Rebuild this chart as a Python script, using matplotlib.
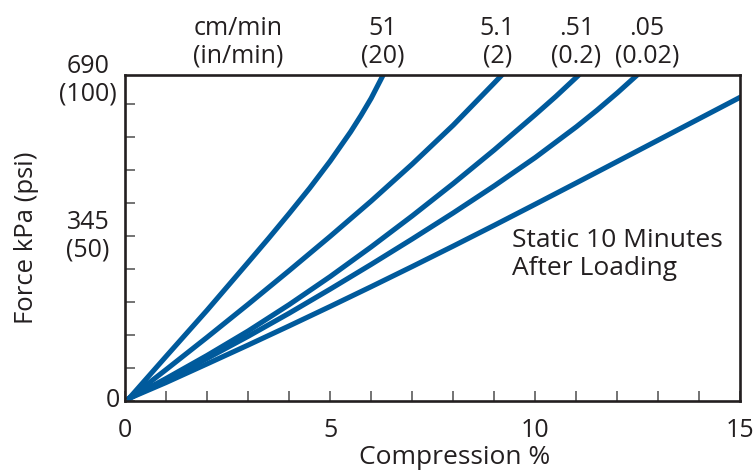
import numpy as np
import matplotlib
matplotlib.use('Agg')
import matplotlib.pyplot as plt
import matplotlib.transforms as mtransforms

plt.rcParams['font.family'] = ['Open Sans', 'DejaVu Sans']

# compression % vs force (psi)
x_51 = [0.1, 1, 2, 3, 3.5, 4, 4.5, 5, 5.5, 5.75, 6, 6.3]
y_51 = [0.8, 13.5, 27.5, 42, 49.3, 56.8, 64.5, 72.7, 81.6, 86.5, 91.75, 99]
x_5p1 = [0.1, 1, 2, 3, 4, 5, 6, 7, 8, 9, 9.2]
y_5p1 = [0.8, 9.5, 19.3, 29.3, 39.5, 49.9, 60.6, 71.8, 83.6, 96.4, 99]
x_p51 = [0.1, 1, 2, 3, 4, 5, 6, 7, 8, 9, 10, 10.5, 11, 11.1]
y_p51 = [0.8, 6.8, 13.8, 21.2, 29.2, 37.7, 46.7, 56.1, 65.9, 76.1, 86.8, 92.3, 98.1, 99.3]
x_p05 = [0.1, 1, 2, 3, 4, 5, 6, 7, 8, 9, 10, 11, 11.5, 12, 12.5]
y_p05 = [0.8, 6.4, 12.9, 19.6, 26.6, 33.9, 41.4, 49.1, 57, 65.2, 73.8, 83.1, 88.1, 93.4, 99]
x_static = [0.1, 1, 2, 3, 4, 5, 6, 7, 8, 9, 10, 11, 12, 13, 14, 15]
y_static = [0.8, 5.6, 11.25, 16.95, 22.75, 28.65, 34.65, 40.75, 46.95, 53.25, 59.65, 66.1, 72.6, 79.1, 85.6, 92.1]

rate_pos = [2.75, 6.29, 9.07, 11.0, 12.72]
rate_cm = ['cm/min', '51', '5.1', '.51', '.05']
rate_in = ['(in/min)', '(20)', '(2)', '(0.2)', '(0.02)']

ylab_vals = [0, 50, 97.3]
ylab_text = ['0', '345\n(50)', '690\n(100)']

xlab_vals = [0, 5, 10, 15]

blue = '#005a9c'
ink = '#231f20'

fig = plt.figure(figsize=(7.55, 4.71), dpi=100)
ax = fig.add_axes([0.16556, 0.14862, 0.8152, 0.69214])

for xs, ys in [(x_51, y_51), (x_5p1, y_5p1), (x_p51, y_p51), (x_p05, y_p05), (x_static, y_static)]:
	ax.plot(xs, ys, color=blue, lw=3.7, solid_capstyle='round', solid_joinstyle='round')

ax.set_xlim(0, 15)
ax.set_ylim(0, 98.8)
for s in ax.spines.values():
	s.set_linewidth(1.9)
	s.set_color(ink)

ax.set_xticks(np.arange(0, 16))
ax.set_xticklabels([str(v) if v in xlab_vals else '' for v in range(16)])
ax.set_yticks(np.arange(0, 91, 10))
ax.set_yticklabels([])
ax.tick_params(axis='both', direction='in', length=7.5, width=1.1, color='#4d4d4d', labelsize=18, labelcolor=ink)
ax.tick_params(axis='x', pad=12)

ytr = mtransforms.blended_transform_factory(ax.transAxes, ax.transData)
for v, t in zip(ylab_vals, ylab_text):
	xpos = -0.0195 if v == 0 else -0.060
	ax.text(xpos, v, t, transform=ytr, ha='center', va='center', fontsize=18, color=ink, linespacing=1.12)

xtr = mtransforms.blended_transform_factory(ax.transData, ax.transAxes)
for p, a, b in zip(rate_pos, rate_cm, rate_in):
	ax.text(p, 1.10, a + '\n' + b, transform=xtr, ha='center', va='center', fontsize=18, color=ink, linespacing=1.12)

ax.text(9.43, 44.5, 'Static 10 Minutes\nAfter Loading', ha='left', va='center', fontsize=19, color=ink, linespacing=1.15)

fig.text(455 / 755, 0.0149, 'Compression %', ha='center', va='baseline', fontsize=19, color=ink)
fig.text(27 / 755, 0.4947, 'Force kPa (psi)', rotation=90, ha='center', va='center', fontsize=18.5, color=ink)

fig.savefig('out.png', dpi=100)
